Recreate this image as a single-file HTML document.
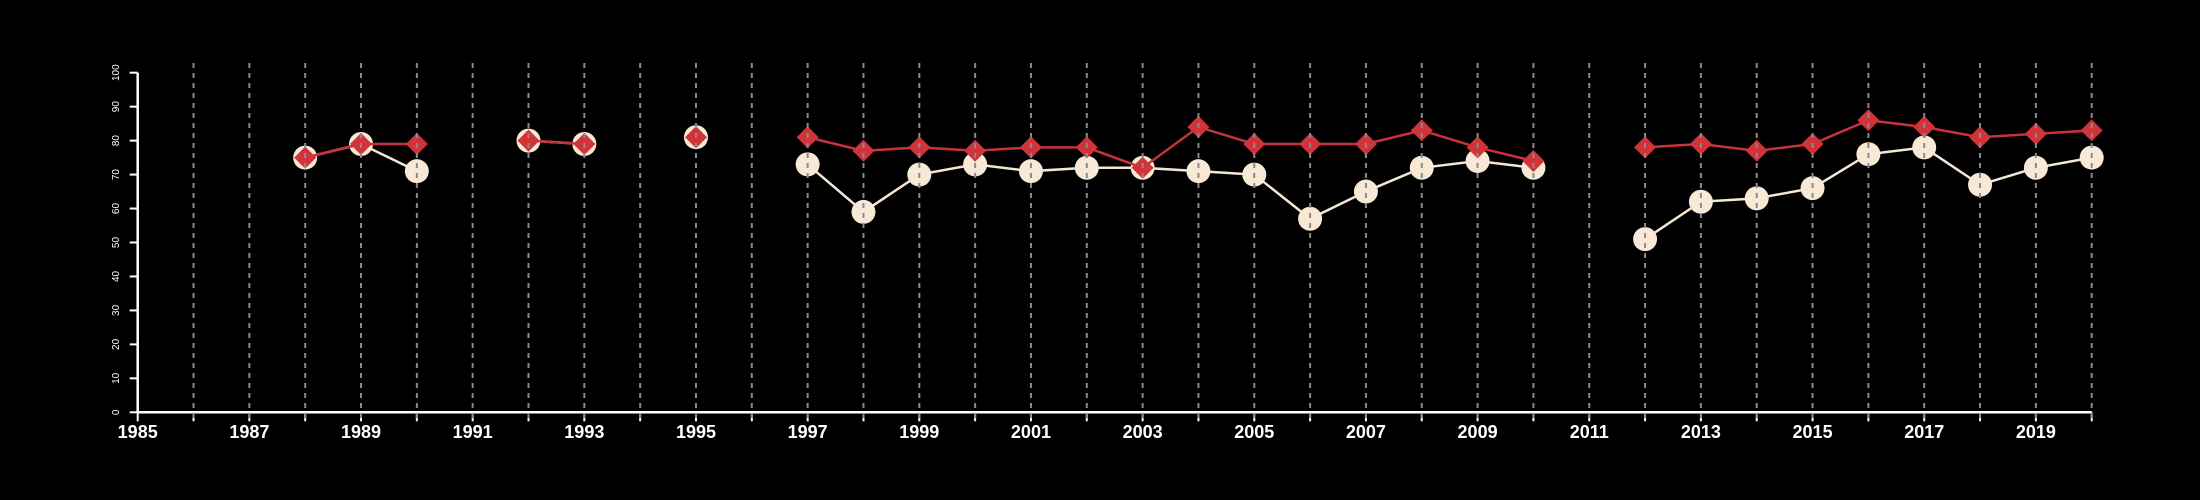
<!DOCTYPE html>
<html><head><meta charset="utf-8"><style>
html,body{margin:0;padding:0;background:#000;}
svg{display:block;}
</style></head><body>
<svg id="chart" width="2200" height="500" xmlns="http://www.w3.org/2000/svg" style="background:#000;font-family:'Liberation Sans',sans-serif"></svg>
<script>
const years=[1988,1989,1990,1991,1992,1993,1994,1995,1996,1997,1998,1999,2000,2001,2002,2003,2004,2005,2006,2007,2008,2009,2010,2011,2012,2013,2014,2015,2016,2017,2018,2019,2020];
const whiteSeries=[75,79,71,null,80,79,null,81,null,73,59,70,73,71,72,72,71,70,57,65,72,74,72,null,51,62,63,66,76,78,67,72,75];
const redSeries=[75,79,79,null,80,79,null,81,null,81,77,78,77,78,78,72,84,79,79,79,83,78,74,null,78,79,77,79,86,84,81,82,83];
const xTickLabels=[1985,1987,1989,1991,1993,1995,1997,1999,2001,2003,2005,2007,2009,2011,2013,2015,2017,2019];
const yTickLabels=[0,10,20,30,40,50,60,70,80,90,100];

const svg=document.getElementById('chart');
const NS='http://www.w3.org/2000/svg';
const x0=137.7,x1=2091.7,y0=412.3,y1=72.7;
const xs=v=>x0+(v-1985)*(x1-x0)/35;
const ys=v=>y0-(v/100)*(y0-y1);
function mk(tag,attrs,parent){const e=document.createElementNS(NS,tag);for(const k in attrs)e.setAttribute(k,attrs[k]);(parent||svg).appendChild(e);return e;}

// axes
const ax=mk('g',{});


const xl=mk('line',{x1:x0,y1:y0,x2:x1,y2:y0,stroke:'#fff','stroke-width':2.5},ax);


const yl=mk('line',{x1:x0,y1:y0,x2:x0,y2:y1,stroke:'#fff','stroke-width':2.5},ax);


for(let yr=1985;yr<=2020;yr++){
  const t=mk('line',{x1:xs(yr),y1:y0,x2:xs(yr),y2:y0+9,stroke:'#fff','stroke-width':2},ax);
  
  
}
xTickLabels.forEach(yr=>{
  const t=mk('text',{x:xs(yr),y:438,fill:'#fff','font-size':18,'font-weight':'bold','text-anchor':'middle'},ax);
  t.textContent=yr;
  
  
});
yTickLabels.forEach(v=>{
  const t=mk('line',{x1:x0-8,y1:ys(v),x2:x0,y2:ys(v),stroke:'#fff','stroke-width':2},ax);
  
  
  const l=mk('text',{x:0,y:0,fill:'#fff','font-size':10,'text-anchor':'middle',transform:`translate(119,${ys(v)}) rotate(-90)`},ax);
  l.textContent=v;
  
  
});

function segs(vals){const out=[];let cur=[];vals.forEach((v,i)=>{if(v==null){if(cur.length)out.push(cur);cur=[];}else cur.push([xs(years[i]),ys(v)]);});if(cur.length)out.push(cur);return out;}
function drawSeries(vals,color,w,name){
  const g=mk('g',{});
  
  
  segs(vals).forEach(s=>{if(s.length>1){const p=mk('polyline',{points:s.map(p=>p.join(',')).join(' '),fill:'none',stroke:color,'stroke-width':w},g);
    
    }});
  return g;
}
const gw=drawSeries(whiteSeries,'#f3e6d3',2.5,'white-series');
whiteSeries.forEach((v,i)=>{if(v==null)return;
  const c=mk('circle',{cx:xs(years[i]),cy:ys(v),r:12,fill:'#f7e9d6'},gw);
  
  
});
const gr=drawSeries(redSeries,'#c8323a',2.5,'red-series');
redSeries.forEach((v,i)=>{if(v==null)return;
  const cx=xs(years[i]),cy=ys(v),d=11;
  const p=mk('polygon',{points:`${cx},${cy-d} ${cx+d},${cy} ${cx},${cy+d} ${cx-d},${cy}`,fill:'#d03339'},gr);
  
  
});
// dashed gridlines on top
const gg=mk('g',{});


for(let yr=1986;yr<=2020;yr++){
  const l=mk('line',{x1:xs(yr),y1:63,x2:xs(yr),y2:y0+9,stroke:'#8a8a8a','stroke-width':2,'stroke-dasharray':'5,5'},gg);
  
  
}
</script>
</body></html>
